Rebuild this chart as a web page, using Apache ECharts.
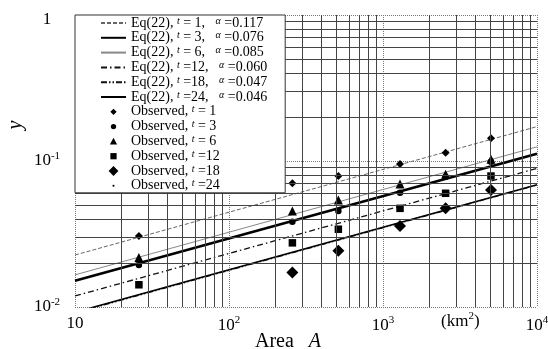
<!DOCTYPE html>
<html>
<head>
    <meta charset="utf-8">
    <title>Eq(22) vs observed</title>
    <script src="https://cdn.jsdelivr.net/npm/echarts@6/dist/echarts.min.js"></script>
</head>
<body style="margin:0;background:#fff;">
    <div id="main" style="width:548px;height:349px;"></div>
    <script type="text/javascript">
        // data
        var tValues = ['1', '3', '6', '12', '18', '24'];
        var alphas = ['0.117', '0.076', '0.085', '0.060', '0.047', '0.046'];
        var lineX = [10, 10000];
        var eqT1 = [0.0227, 0.172];
        var eqT3 = [0.0151, 0.112];
        var eqT6 = [0.0166, 0.125];
        var eqT12 = [0.0119, 0.089];
        var eqT18 = [0.0091, 0.0685];
        var eqT24 = [0.0092, 0.0688];

        var areaA = [26, 258, 513, 1290, 2550, 5025];
        var obsT1 = [0.0306, 0.0704, 0.0789, 0.0953, 0.114, 0.143];
        var obsT3 = [0.0194, 0.0384, 0.0455, 0.0607, 0.078, 0.099];
        var obsT6 = [0.0218, 0.0455, 0.0541, 0.0696, 0.0811, 0.103];
        var obsT12 = [0.0142, 0.0275, 0.0341, 0.0474, 0.0601, 0.0789];
        var obsT18 = [null, 0.0172, 0.0243, 0.0359, 0.0474, 0.0633];
        var obsT24 = [null, 0.0172, 0.0243, 0.0359, 0.0474, 0.0633];

        var xTickLabels = ['10', '10{s|2}', '10{s|3}', '10{s|4}'];
        var yTickLabels = ['10{s|-2}', '10{s|-1}', '{one|1}'];
        var minorSteps = [2, 3, 4, 5, 6, 7, 8, 9];
        var xDecades = [10, 100, 1000];
        var yDecades = [0.01, 0.1];

        var serif = '"Liberation Serif", "DejaVu Serif", serif';

        function pairs(xs, ys) {
            var out = [];
            for (var i = 0; i < xs.length; i++) {
                if (ys[i] != null) out.push([xs[i], ys[i]]);
            }
            return out;
        }

        var minorLines = [];
        xDecades.forEach(function (d) {
            minorSteps.forEach(function (k) { minorLines.push({xAxis: k * d}); });
        });
        yDecades.forEach(function (d) {
            minorSteps.forEach(function (k) { minorLines.push({yAxis: +(k * d).toPrecision(3)}); });
        });

        var eqNames = tValues.map(function (t) { return 'Eq(22), t=' + t; });
        var obsNames = tValues.map(function (t) { return 'Observed, t=' + t; });

        function tText(t) {
            return t.length === 1 ? '{t|t} = ' + t : '{t|t} =' + t;
        }

        // legend icons: box 28x14, marker drawn in the middle
        var box = 'path://M0,0M28,14';
        var obsIcons = [
            box + 'M14,3.5L17.5,7L14,10.5L10.5,7Z',
            box + 'M11,7A3,3,0,1,0,17,7A3,3,0,1,0,11,7Z',
            box + 'M14,3L18,10.5L10,10.5Z',
            box + 'M10.5,3.5L17.5,3.5L17.5,10.5L10.5,10.5Z',
            box + 'M14,1.5L19.5,7L14,12.5L8.5,7Z',
            box + 'M12.8,7A1.2,1.2,0,1,0,15.2,7A1.2,1.2,0,1,0,12.8,7Z'
        ];

        var lineStyles = [
            {color: '#666', width: 1, type: [4, 2]},
            {color: '#000', width: 2.6, type: 'solid'},
            {color: '#888', width: 1, type: 'solid'},
            {color: '#111', width: 1.3, type: [6, 3, 1.5, 3]},
            {color: '#111', width: 1.3, type: [6, 2, 1.5, 2, 1.5, 2]},
            {color: '#000', width: 1.6, type: 'solid'}
        ];
        var eqData = [eqT1, eqT3, eqT6, eqT12, eqT18, eqT24];
        var obsData = [obsT1, obsT3, obsT6, obsT12, obsT18, obsT24];
        var obsSymbols = ['diamond', 'circle', 'triangle', 'rect', 'diamond', 'circle'];
        var obsSizes = [8, 6.5, 9, 7.5, 12, 3];

        var series = [{
            type: 'line',
            data: [],
            silent: true,
            z: 1,
            markLine: {
                silent: true,
                symbol: ['none', 'none'],
                label: {show: false},
                lineStyle: {color: '#444', width: 1, type: 'solid'},
                data: minorLines
            }
        }];
        eqData.forEach(function (d, i) {
            series.push({
                name: eqNames[i],
                type: 'line',
                data: pairs(lineX, d),
                showSymbol: false,
                symbol: 'none',
                lineStyle: lineStyles[i],
                itemStyle: {color: lineStyles[i].color},
                z: 3
            });
        });
        obsData.forEach(function (d, i) {
            series.push({
                name: obsNames[i],
                type: 'scatter',
                data: pairs(areaA, d),
                symbol: obsSymbols[i],
                symbolSize: obsSizes[i],
                itemStyle: {color: '#000', opacity: 1},
                z: 4
            });
        });

        var legendData = eqNames.map(function (n) {
            return {name: n, itemStyle: {color: 'rgba(0,0,0,0)', borderWidth: 0, opacity: 0}};
        }).concat(obsNames.map(function (n, i) { return {name: n, icon: obsIcons[i]}; }));

        var labelByName = {};
        tValues.forEach(function (t, i) {
            labelByName[eqNames[i]] = 'Eq(22), ' + tText(t) + ',   {t|\u03b1} =' + alphas[i];
            labelByName[obsNames[i]] = 'Observed, ' + tText(t);
        });

        var myChart = echarts.init(document.getElementById('main'));
        var option = {
            animation: false,
            backgroundColor: '#fff',
            grid: {left: 75, right: 11, top: 15, bottom: 42, containLabel: false, outerBoundsMode: 'none'},
            legend: {
                orient: 'vertical',
                left: 75,
                top: 15,
                padding: [1, 18, 0, 25],
                itemWidth: 25,
                itemHeight: 14,
                itemGap: 0.8,
                backgroundColor: '#fff',
                borderColor: '#333',
                borderWidth: 1,
                borderRadius: 0,
                z: 10,
                data: legendData,
                formatter: function (name) { return labelByName[name]; },
                textStyle: {
                    fontFamily: serif,
                    fontSize: 14,
                    color: '#000',
                    lineHeight: 14,
                    rich: {
                        t: {fontFamily: serif, fontSize: 10, fontStyle: 'italic', color: '#000', padding: [0, 0, 4, 0]}
                    }
                }
            },
            graphic: [{
                type: 'text',
                left: 441,
                top: 311,
                style: {
                    text: '(km{s|2})',
                    font: '17px ' + serif,
                    fill: '#000',
                    rich: {s: {fontFamily: serif, fontSize: 11, fill: '#000', padding: [0, 0, 10, 0]}}
                }
            }],
            xAxis: {
                type: 'log',
                logBase: 10,
                min: 10,
                max: 10000,
                name: 'Area   {i|A}',
                nameLocation: 'middle',
                nameGap: 25,
                nameMoveOverlap: false,
                nameTextStyle: {
                    fontFamily: serif, fontSize: 20, color: '#000', padding: [0, 36, 0, 0],
                    rich: {i: {fontFamily: serif, fontSize: 20, fontStyle: 'italic', color: '#000'}}
                },
                axisLine: {show: false},
                axisTick: {show: false},
                splitLine: {show: true, lineStyle: {color: '#777', width: 1, type: 'dotted'}},
                axisLabel: {
                    margin: 8,
                    fontFamily: serif,
                    fontSize: 17,
                    color: '#000',
                    formatter: function (v) { return xTickLabels[Math.round(Math.log10(v)) - 1]; },
                    rich: {s: {fontFamily: serif, fontSize: 11, color: '#000', padding: [0, 0, 10, 0]}}
                }
            },
            yAxis: {
                type: 'log',
                logBase: 10,
                min: 0.01,
                max: 1,
                name: 'y',
                nameLocation: 'middle',
                nameGap: 49,
                nameMoveOverlap: false,
                nameTextStyle: {fontFamily: serif, fontSize: 20, fontStyle: 'italic', color: '#000', padding: [0, 0, 0, 72]},
                axisLine: {show: false},
                axisTick: {show: false},
                splitLine: {show: true, lineStyle: {color: '#777', width: 1, type: 'dotted'}},
                axisLabel: {
                    margin: 28,
                    align: 'center',
                    fontFamily: serif,
                    fontSize: 17,
                    color: '#000',
                    formatter: function (v) { return yTickLabels[Math.round(Math.log10(v)) + 2]; },
                    rich: {
                        s: {fontFamily: serif, fontSize: 11, color: '#000', padding: [0, 0, 10, 0]},
                        one: {fontFamily: serif, fontSize: 17, color: '#000', padding: [10, 0, 0, 0]}
                    }
                }
            },
            series: series
        };
        myChart.setOption(option);
    </script>
</body>
</html>
